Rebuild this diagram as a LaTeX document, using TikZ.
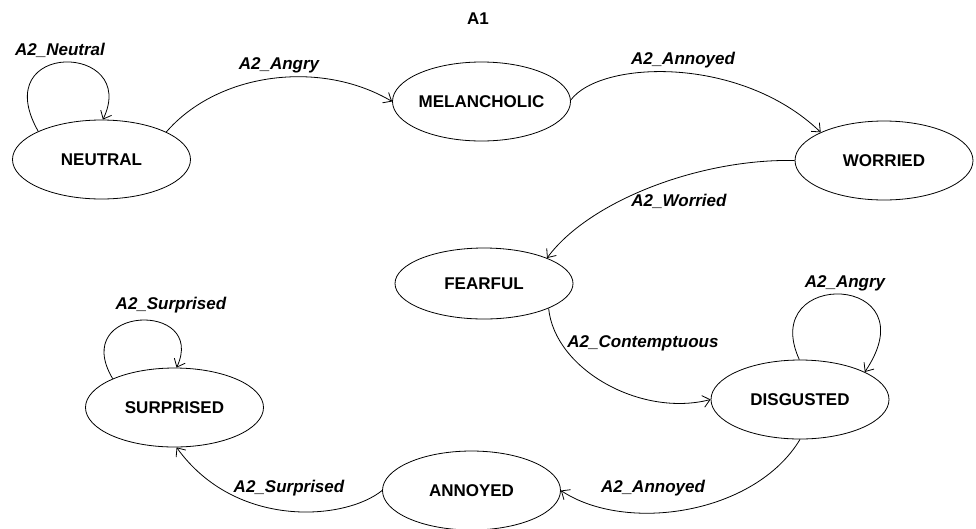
\documentclass[tikz,border=0pt]{standalone}
\usepackage{fontspec}
\setmainfont{Liberation Sans}
\usetikzlibrary{shapes.geometric,arrows.meta}
\begin{document}
\begin{tikzpicture}[x=1pt,y=-1pt,
  state/.style={draw,ellipse,line width=0.8pt,inner sep=0pt,minimum width=178pt,minimum height=79pt},
  sname/.style={font=\fontsize{17}{20}\selectfont\bfseries},
  elabel/.style={font=\fontsize{17}{20}\selectfont\bfseries\itshape,inner sep=0pt},
  tr/.style={line width=0.8pt,-{Straight Barb[length=7pt,width=12pt]}}]
\useasboundingbox (0,0) rectangle (976,528);
\node[sname] (title) at (478,19) {A1};
\node[state,label={[sname]center:NEUTRAL}] (n) at (101.5,159.5) {};
\node[state,label={[sname]center:MELANCHOLIC}] (m) at (481.5,101.5) {};
\node[state,label={[sname]center:WORRIED}] (w) at (884,160.5) {};
\node[state,minimum height=71pt,label={[sname]center:FEARFUL}] (f) at (484,283.5) {};
\node[state,label={[sname]center:DISGUSTED}] (d) at (800,399.5) {};
\node[state,label={[sname]center:ANNOYED}] (a) at (471.5,490.5) {};
\node[state,label={[sname]center:SURPRISED}] (s) at (174.5,407.5) {};
% connectors
\draw[tr] (n.156.9) .. controls +(-52,-92) and +(37,-77) .. (n.88);
\draw[tr] (n.23.1) .. controls +(52,-60) and +(-71,-42) .. (m.180);
\draw[tr] (m.1) .. controls +(30,-40) and +(-80,-77) .. (w.156);
\draw[tr] (w.180) .. controls +(-95,-2) and +(42,-57) .. (f.22.6);
\draw[tr] (f.-21.7) .. controls +(6,61) and +(-70,18) .. (d.180);
\draw[tr] (d.91.4) .. controls +(-42,-92) and +(67,-99) .. (d.23.7);
\draw[tr] (d.-90) .. controls +(-45,75) and +(65,43) .. (a.0);
\draw[tr] (a.180) .. controls +(-37,30) and +(59,82) .. (s.-87.9);
\draw[tr] (s.155.5) .. controls +(-44,-74) and +(31,-67) .. (s.87.9);
% labels
\node[elabel] (l1) at (60,50) {A2\_Neutral};
\node[elabel] (l2) at (279,65) {A2\_Angry};
\node[elabel] (l3) at (683,60) {A2\_Annoyed};
\node[elabel] (l4) at (679,201) {A2\_Worried};
\node[elabel] (l5) at (643,343) {A2\_Contemptuous};
\node[elabel] (l6) at (845,283) {A2\_Angry};
\node[elabel] (l7) at (171,305) {A2\_Surprised};
\node[elabel] (l8) at (289,488) {A2\_Surprised};
\node[elabel] (l9) at (653,488) {A2\_Annoyed};
\end{tikzpicture}
\end{document}
